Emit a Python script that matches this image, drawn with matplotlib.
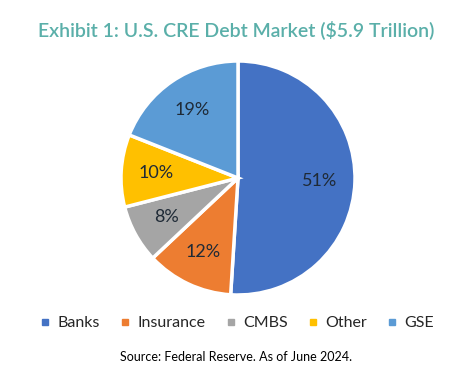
import matplotlib
matplotlib.use("Agg")
import matplotlib.pyplot as plt
from matplotlib.lines import Line2D

categories = ["Banks", "Insurance", "CMBS", "Other", "GSE"]
values = [51, 12, 8, 10, 19]
colors = ["#4472C4", "#ED7D31", "#A5A5A5", "#FFC000", "#5B9BD5"]
title = "Exhibit 1: U.S. CRE Debt Market ($5.9 Trillion)"
source = "Source: Federal Reserve. As of June 2024."

plt.rcParams['font.family'] = ['Lato', 'DejaVu Sans']

W, H = 473, 387
fig = plt.figure(figsize=(W/100, H/100), dpi=100)
cx, cy, r = 238, 178, 117
ax = fig.add_axes([(cx - r)/W, (H - cy - r)/H, 2*r/W, 2*r/H])
wedges, texts, autotexts = ax.pie(
    values, colors=colors, startangle=90, counterclock=False,
    autopct=lambda p: f"{round(p):d}%", pctdistance=0.7,
    wedgeprops=dict(edgecolor="white", linewidth=2.5),
    textprops=dict(fontsize=13, color="#1f2a36"))
ax.set_xlim(-1, 1)
ax.set_ylim(-1, 1)
ax.set_aspect('equal')
ax.axis('off')

fig.text(0.5, 1 - 30/H, title, ha='center', va='center', fontsize=14,
         color="#5AAFA9", fontweight='semibold')

handles = [Line2D([], [], marker='s', linestyle='none', markersize=5,
                  markerfacecolor=c, markeredgecolor=c) for c in colors]
fig.legend(handles, categories, loc='center', bbox_to_anchor=(0.5, 1 - 323/H),
           ncol=5, frameon=False, fontsize=11.5, handletextpad=0.35,
           columnspacing=1.2, handlelength=0.8, labelcolor="#262626")

fig.text(0.5, 1 - 357/H, source, ha='center', va='center', fontsize=9,
         color="#000000")

fig.savefig("out.png", dpi=100, facecolor="white")
